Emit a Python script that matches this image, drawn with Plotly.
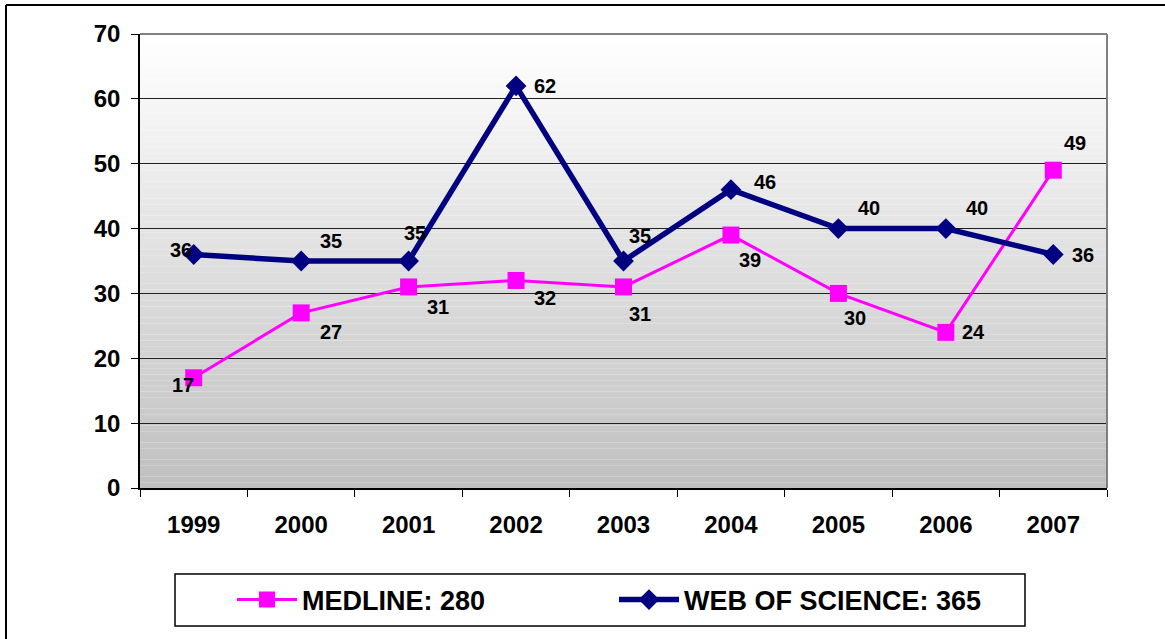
import plotly.graph_objects as go

# Yearly record counts per database
years = ["1999", "2000", "2001", "2002", "2003", "2004", "2005", "2006", "2007"]
medline = [17, 27, 31, 32, 31, 39, 30, 24, 49]
web_of_science = [36, 35, 35, 62, 35, 46, 40, 40, 36]

# Label nudges in pixels (dx right, dy up) so the value tags clear the lines
wos_label_shift = [(-13, 5), (30, 20), (6, 28), (29, 0), (16, 25), (34, 8), (31, 21), (31, 21), (30, 0)]
med_label_shift = [(-11, -7), (30, -19), (29, -20), (29, -18), (16, -27), (19, -25), (17, -25), (28, 0), (22, 27)]

W, H = 1165, 639
L, R, T, B = 140, 58, 34, 151
PW, PH = W - L - R, H - T - B
FONT = "Liberation Sans"


def px(x):
    return (x - L) / PW


def py(y):
    return (H - B - y) / PH


fig = go.Figure()

fig.add_trace(go.Scatter(
    x=years, y=medline, mode="lines+markers",
    name=f"MEDLINE: {sum(medline)}",
    line=dict(color="#FF00FF", width=3),
    marker=dict(symbol="square", size=17, color="#FF00FF"),
))
fig.add_trace(go.Scatter(
    x=years, y=web_of_science, mode="lines+markers",
    name=f"WEB OF SCIENCE: {sum(web_of_science)}",
    line=dict(color="#000080", width=5.5),
    marker=dict(symbol="diamond", size=16, color="#000080"),
))

# Value tags; on a category axis the annotation x is the category index
label_font = dict(family=FONT, size=20, color="black", weight="bold")
annotations = []
for i, (v, (dx, dy)) in enumerate(zip(web_of_science, wos_label_shift)):
    annotations.append(dict(x=i, y=v, xref="x", yref="y", text=str(v), showarrow=False,
                            xshift=dx, yshift=dy, font=label_font))
for i, (v, (dx, dy)) in enumerate(zip(medline, med_label_shift)):
    annotations.append(dict(x=i, y=v, xref="x", yref="y", text=str(v), showarrow=False,
                            xshift=dx, yshift=dy, font=label_font))

# Vertical grey gradient behind the plot area
shapes = []
n = 80
for i in range(n):
    t = i / (n - 1)
    c = round(255 - (255 - 192) * t)
    shapes.append(dict(type="rect", xref="x domain", yref="y domain",
                       x0=0, x1=1, y0=1 - (i + 1) / n, y1=1 - i / n,
                       fillcolor=f"rgb({c},{c},{c})", line=dict(width=0),
                       layer="below"))
# Grey frame on the top and right of the plot area
shapes.append(dict(type="line", xref="x domain", yref="y domain",
                   x0=0, x1=1, y0=1, y1=1, line=dict(color="#808080", width=2)))
shapes.append(dict(type="line", xref="x domain", yref="y domain",
                   x0=1, x1=1, y0=0, y1=1, line=dict(color="#808080", width=2)))
# Legend frame
shapes.append(dict(type="rect", xref="paper", yref="paper",
                   x0=px(175), x1=px(1025), y0=py(626), y1=py(574),
                   line=dict(color="black", width=1.5), fillcolor="white", layer="below"))
# Outer border (left and top edges)
shapes.append(dict(type="line", xref="paper", yref="paper",
                   x0=px(6), x1=px(6), y0=py(5), y1=py(639),
                   line=dict(color="black", width=2)))
shapes.append(dict(type="line", xref="paper", yref="paper",
                   x0=px(6), x1=px(1165), y0=py(5), y1=py(5),
                   line=dict(color="black", width=2)))

tick_font = dict(family=FONT, size=24, color="black", weight="bold")

fig.update_layout(
    width=W, height=H,
    margin=dict(l=L, r=R, t=T, b=B, pad=0),
    paper_bgcolor="white", plot_bgcolor="white",
    showlegend=True,
    legend=dict(orientation="h", x=px(232), y=py(600), xanchor="left", yanchor="middle",
                font=dict(family=FONT, size=27, color="black", weight="bold"),
                bgcolor="rgba(0,0,0,0)", entrywidth=307, itemwidth=60),
    annotations=annotations,
    shapes=shapes,
    xaxis=dict(type="category", range=[-0.5, 8.5], tickson="boundaries",
               ticks="outside", ticklen=7, tickcolor="black", tickwidth=1,
               showline=True, linecolor="black", linewidth=1.5,
               showgrid=False, zeroline=False, tickfont=tick_font,
               ticklabelstandoff=14, fixedrange=True),
    yaxis=dict(range=[0, 70], dtick=10, ticks="outside", ticklen=7,
               tickcolor="black", tickwidth=1,
               showline=True, linecolor="black", linewidth=1.5,
               showgrid=True, gridcolor="#202020", gridwidth=1,
               zeroline=False, tickfont=tick_font,
               ticklabelstandoff=6, fixedrange=True),
)

fig.write_html("out.html")
